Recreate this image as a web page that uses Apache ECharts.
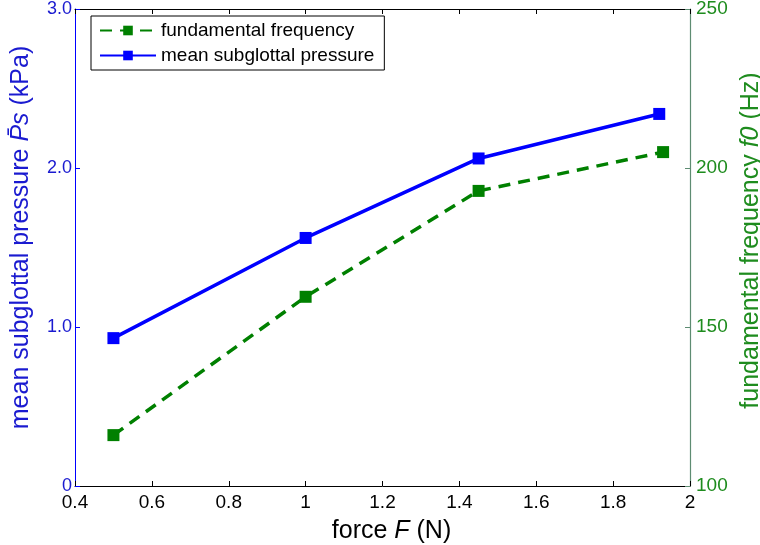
<!DOCTYPE html>
<html>
<head>
<meta charset="utf-8">
<script src="https://cdn.jsdelivr.net/npm/echarts@6/dist/echarts.min.js"></script>
<style>html,body{margin:0;padding:0;background:#fff;}#c{width:760px;height:545px;}</style>
</head>
<body>
<div id="c"></div>
<script>
var forcePressure = [0.5, 1.0, 1.45, 1.92];
var pressureValues = [0.93, 1.56, 2.06, 2.34];
var forceFreq = [0.5, 1.0, 1.45, 1.93];
var freqValues = [116, 159.5, 192.8, 205];
var xTickValues = [0.4, 0.6, 0.8, 1, 1.2, 1.4, 1.6, 1.8, 2];
var xTickLabels = ['0.4', '0.6', '0.8', '1', '1.2', '1.4', '1.6', '1.8', '2'];
var leftTickValues = [0, 1, 2, 3];
var leftTickLabels = ['0', '1.0', '2.0', '3.0'];
var rightTickValues = [100, 150, 200, 250];
var rightTickLabels = ['100', '150', '200', '250'];

function lookup(vals, labs) {
  return function (v) {
    for (var i = 0; i < vals.length; i++) {
      if (Math.abs(vals[i] - v) < 1e-6) return labs[i];
    }
    return '';
  };
}

var FONT = 'Liberation Sans, Arial, sans-serif';
var BLUE = '#0000ff';
var BLUE_TXT = '#1a1ad0';
var GREEN = '#008000';
var GREEN_TXT = '#1e8c1e';

var chart = echarts.init(document.getElementById('c'));
chart.setOption({
  animation: false,
  backgroundColor: '#ffffff',
  grid: { left: 75, right: 70, top: 9, bottom: 59, containLabel: false, outerBoundsMode: 'none' },
  legend: {
    orient: 'vertical',
    left: 91, top: 16,
    padding: [5, 10, 5, 8],
    itemGap: 6,
    itemWidth: 56, itemHeight: 12,
    borderColor: '#000', borderWidth: 1, backgroundColor: '#fff',
    textStyle: { fontFamily: FONT, fontSize: 19, color: '#000' },
    data: ['fundamental frequency', 'mean subglottal pressure']
  },
  xAxis: [{
    type: 'value', min: 0.4, max: 2, interval: 0.2,
    name: 'force {i|F} (N)', nameLocation: 'middle', nameGap: 33,
    nameTextStyle: { fontFamily: FONT, fontSize: 25, color: '#000', padding: [0, 0, 0, 18],
      rich: { i: { fontStyle: 'italic', fontFamily: FONT, fontSize: 25, color: '#000' } } },
    axisLine: { show: true, lineStyle: { color: '#000', width: 1 } },
    axisTick: { show: true, inside: true, length: 5, lineStyle: { color: '#000' } },
    axisLabel: { fontFamily: FONT, fontSize: 19, color: '#000', margin: 7, formatter: lookup(xTickValues, xTickLabels) },
    splitLine: { show: false }
  }, {
    type: 'value', min: 0.4, max: 2, interval: 0.2, position: 'top',
    axisLine: { show: true, lineStyle: { color: '#000', width: 1 } },
    axisTick: { show: true, inside: true, length: 5, lineStyle: { color: '#000' } },
    axisLabel: { show: false },
    splitLine: { show: false }
  }],
  yAxis: [{
    type: 'value', min: 0, max: 3, interval: 1, position: 'left',
    name: 'mean subglottal pressure {i|P\u0304s} (kPa)', nameLocation: 'middle', nameGap: 41, nameRotate: 90,
    nameTextStyle: { fontFamily: FONT, fontSize: 25, color: BLUE_TXT, padding: [0, 0, 0, 20],
      rich: { i: { fontStyle: 'italic', fontFamily: FONT, fontSize: 25, color: BLUE_TXT } } },
    axisLine: { show: true, lineStyle: { color: BLUE, width: 1 } },
    axisTick: { show: true, inside: true, length: 5, lineStyle: { color: BLUE } },
    axisLabel: { fontFamily: FONT, fontSize: 18, color: BLUE_TXT, margin: 3, formatter: lookup(leftTickValues, leftTickLabels) },
    splitLine: { show: false }
  }, {
    type: 'value', min: 100, max: 250, interval: 50, position: 'right',
    name: 'fundamental frequency {i|f0} (Hz)', nameLocation: 'middle', nameGap: 34, nameRotate: 90,
    nameTextStyle: { fontFamily: FONT, fontSize: 25, color: GREEN_TXT, padding: [0, 0, 0, 14],
      rich: { i: { fontStyle: 'italic', fontFamily: FONT, fontSize: 25, color: GREEN_TXT } } },
    axisLine: { show: true, lineStyle: { color: '#5e8c72', width: 1.2 } },
    axisTick: { show: true, inside: true, length: 5, lineStyle: { color: '#5e8c72' } },
    axisLabel: { fontFamily: FONT, fontSize: 19, color: GREEN_TXT, margin: 6, formatter: lookup(rightTickValues, rightTickLabels) },
    splitLine: { show: false }
  }],
  series: [{
    name: 'fundamental frequency',
    type: 'line', xAxisIndex: 0, yAxisIndex: 1,
    data: forceFreq.map(function (x, i) { return [x, freqValues[i]]; }),
    symbol: 'rect', symbolSize: 12,
    lineStyle: { color: GREEN, width: 3.5, type: [12, 8] },
    itemStyle: { color: GREEN },
    z: 3
  }, {
    name: 'mean subglottal pressure',
    type: 'line', xAxisIndex: 0, yAxisIndex: 0,
    data: forcePressure.map(function (x, i) { return [x, pressureValues[i]]; }),
    symbol: 'rect', symbolSize: 12,
    lineStyle: { color: BLUE, width: 3.5 },
    itemStyle: { color: BLUE },
    z: 4
  }]
});
</script>
</body>
</html>
